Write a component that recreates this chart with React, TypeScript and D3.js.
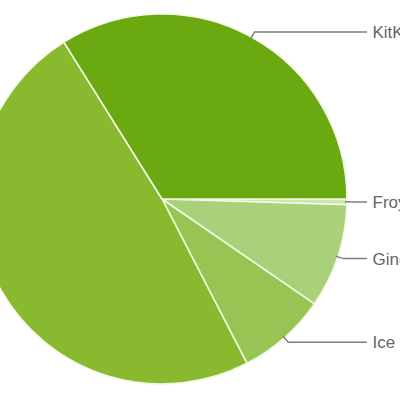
import * as d3 from "d3";

// Android platform versions, share of devices (%)
const versions = ["Froyo", "Gingerbread", "Ice Cream Sandwich", "Jelly Bean", "KitKat"];
const shares = [0.5, 9.1, 7.8, 48.7, 33.9];
const colors = ["#cfe6aa", "#a9d179", "#98c453", "#88b92f", "#6aaa10"];
// Jelly Bean's label sits outside the visible area
const labelled = [true, true, true, false, true];

const width = 400;
const height = 400;
const cx = 162;
const cy = 199;
const radius = 185;

export default function App() {
  const pie = d3
    .pie<number>()
    .sort(null)
    .startAngle(Math.PI / 2)
    .endAngle(Math.PI / 2 + 2 * Math.PI);
  const arcs = pie(shares);

  const arc = d3.arc<d3.PieArcDatum<number>>().innerRadius(0).outerRadius(radius);
  // points used for the leader lines
  const edge = d3.arc<d3.PieArcDatum<number>>().innerRadius(radius - 2).outerRadius(radius - 2);
  const elbow = d3.arc<d3.PieArcDatum<number>>().innerRadius(radius + 6).outerRadius(radius + 6);

  const lineEnd = 367 - cx;
  const textX = 372.5 - cx;

  return (
    <svg
      width={width}
      height={height}
      style={{ position: "absolute", left: 0, top: 0, background: "#fff" }}
    >
      <g transform={`translate(${cx},${cy})`}>
        {arcs.map((a, i) => (
          <path key={versions[i]} d={arc(a)!} fill={colors[i]} stroke="#f3f9e4" strokeWidth={1.6} />
        ))}
        {arcs.map((a, i) => {
          if (!labelled[i]) return null;
          const [sx, sy] = edge.centroid(a);
          const [ex, ey] = elbow.centroid(a);
          return (
            <g key={"l" + versions[i]}>
              <polyline
                points={`${sx},${sy} ${ex},${ey} ${lineEnd},${ey}`}
                fill="none"
                stroke="#7f7f7f"
                strokeWidth={1.5}
              />
              <text
                x={textX}
                y={ey}
                dy="0.36em"
                fill="#666"
                style={{ fontFamily: "Liberation Sans, Arial, sans-serif", fontSize: 17 }}
              >
                {versions[i]}
              </text>
            </g>
          );
        })}
      </g>
    </svg>
  );
}
